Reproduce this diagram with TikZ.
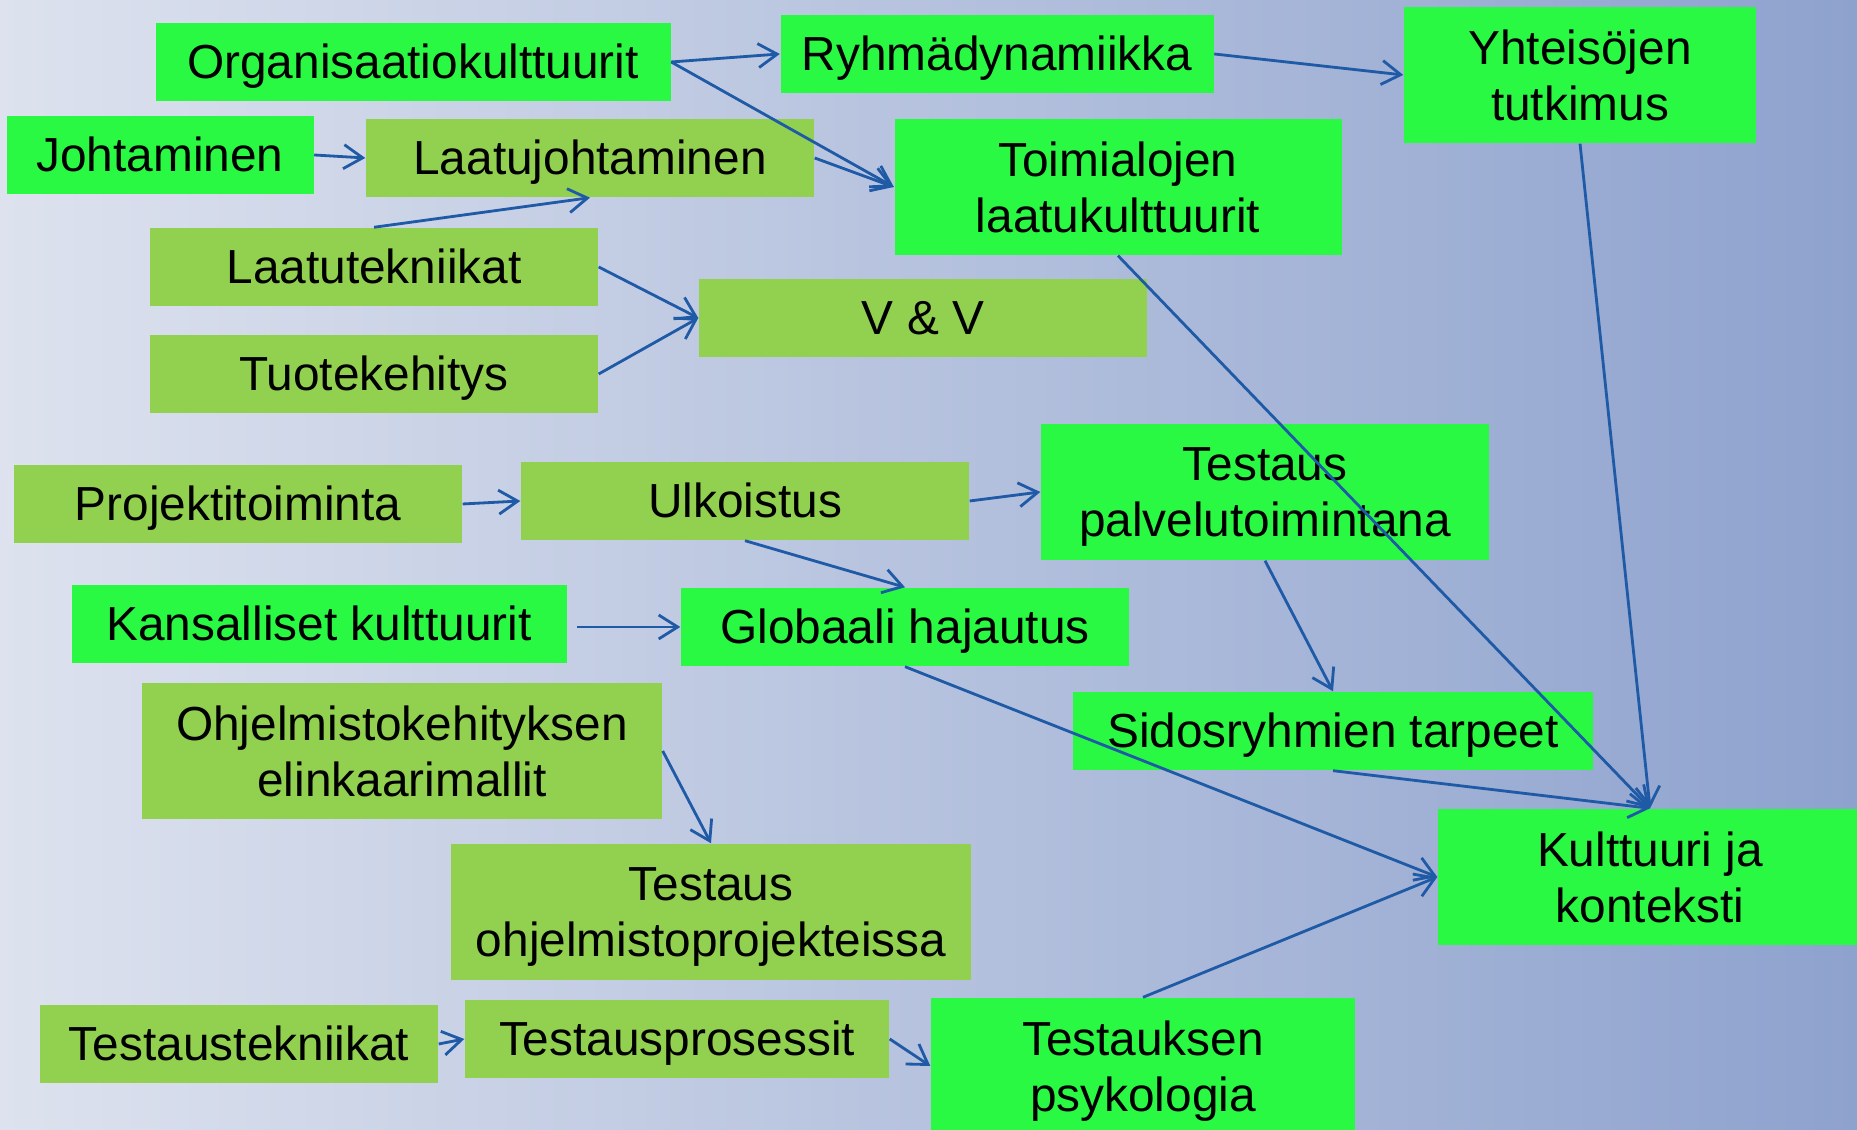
\documentclass[tikz,border=0pt]{standalone}
\usepackage{fontspec}
\setmainfont{Liberation Sans}
\usetikzlibrary{arrows.meta}
\definecolor{ink}{HTML}{000000}
\definecolor{vivid}{HTML}{2AF944}
\definecolor{leaf}{HTML}{92D050}
\definecolor{wire}{HTML}{1F5AA6}
\definecolor{skyleft}{HTML}{DDE2EE}
\definecolor{skyright}{HTML}{8EA2CE}
\tikzset{
  every node/.style={font=\fontsize{13.6}{15.9}\selectfont,text=ink,inner sep=0pt,align=center,
    execute at begin node=\rule{0pt}{.905em},execute at end node=\rule[-.212em]{0pt}{.212em}},
  topic/.style={fill=vivid,minimum height=7.8mm},
  method/.style={fill=leaf,minimum height=7.8mm},
  tall/.style={minimum height=13.6mm,text depth=0pt},
  link/.style={-{Straight Barb[length=1.9mm,width=2.4mm]},draw=wire,line width=.8pt},
}

\begin{document}
\begin{tikzpicture}[x=1cm,y=1cm]
\path[use as bounding box] (0,0) rectangle (18.57,11.30);
\shade[left color=skyleft,right color=skyright] (0,0) rectangle (18.57,11.30);
% Bright boxes: culture and context topics; leaf boxes: methods and practice.
\node[topic,minimum width=51.5mm] (org) at (4.13,10.68) {Organisaatiokulttuurit};
\node[topic,minimum width=43.3mm] (ryh) at (9.97,10.76) {Ryhmädynamiikka};
\node[topic,tall,minimum width=35.2mm] (yht) at (15.80,10.55) {Yhteisöjen\\tutkimus};
\node[topic,minimum width=30.7mm] (joh) at (1.60,9.75) {Johtaminen};
\node[method,minimum width=44.8mm] (laj) at (5.90,9.72) {Laatujohtaminen};
\node[topic,tall,minimum width=44.7mm] (toim) at (11.18,9.43) {Toimialojen\\laatukulttuurit};
\node[method,minimum width=44.8mm] (lat) at (3.74,8.63) {Laatutekniikat};
\node[method,minimum width=44.8mm] (tuo) at (3.74,7.56) {Tuotekehitys};
\node[method,minimum width=44.8mm] (vv) at (9.23,8.12) {V \& V};
\node[method,minimum width=44.8mm] (pro) at (2.38,6.26) {Projektitoiminta};
\node[method,minimum width=44.8mm] (ulk) at (7.45,6.29) {Ulkoistus};
\node[topic,tall,minimum width=44.8mm] (tpal) at (12.65,6.38) {Testaus\\palvelutoimintana};
\node[topic,minimum width=49.5mm] (kan) at (3.19,5.06) {Kansalliset kulttuurit};
\node[topic,minimum width=44.8mm] (glo) at (9.05,5.03) {Globaali hajautus};
\node[method,tall,minimum width=52mm] (ohj) at (4.02,3.79) {Ohjelmistokehityksen\\elinkaarimallit};
\node[topic,minimum width=52mm] (sid) at (13.33,3.99) {Sidosryhmien tarpeet};
\node[topic,tall,minimum width=42.4mm] (kul) at (16.50,2.53) {Kulttuuri ja\\konteksti};
\node[method,tall,minimum width=52mm] (tohj) at (7.11,2.18) {Testaus\\ohjelmistoprojekteissa};
\node[method,minimum width=39.8mm] (tte) at (2.39,0.86) {Testaustekniikat};
\node[method,minimum width=42.4mm] (tpr) at (6.77,0.91) {Testausprosessit};
\node[topic,tall,minimum width=42.4mm] (tpsy) at (11.43,0.64) {Testauksen\\psykologia};
% Connectors are drawn last, so they run over the boxes they cross.
\foreach \a/\b in {org.east/ryh.west,org.east/toim.west,laj.east/toim.west,
    joh.east/laj.west,lat.north/laj.south,lat.east/vv.west,tuo.east/vv.west,
    ryh.east/yht.west,yht.south/kul.north,toim.south/kul.north,
    tpal.south/sid.north,sid.south/kul.north,glo.south/kul.west,tpsy.north/kul.west,
    pro.east/ulk.west,ulk.east/tpal.west,ulk.south/glo.north,
    ohj.east/tohj.north,tte.east/tpr.west,tpr.east/tpsy.west}
  \draw[link] (\a) -- (\b);
\draw[link,shorten <=1mm] (kan.east |- glo.west) -- (glo.west);
\end{tikzpicture}
\end{document}
